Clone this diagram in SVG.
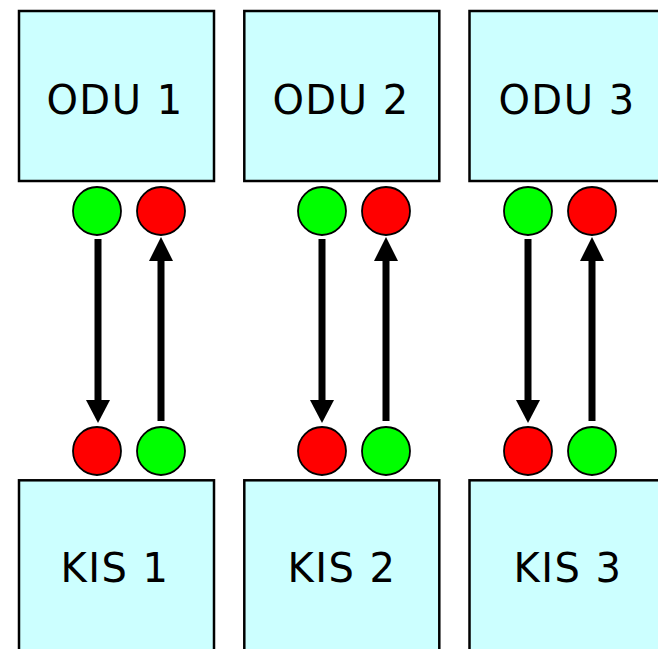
<svg xmlns="http://www.w3.org/2000/svg" width="658" height="649" viewBox="0 0 658 649">
<style>
.box{fill:#CCFFFF;stroke:#000;stroke-width:2.5}
.lbl{font-family:"DejaVu Sans",Verdana,sans-serif;font-size:40px;letter-spacing:1.5px;fill:#000;text-anchor:middle}
.g{fill:#00FF00;stroke:#000;stroke-width:1.8}
.r{fill:#FF0000;stroke:#000;stroke-width:1.8}
.shaft{stroke:#000;stroke-width:7;fill:none}
.head{fill:#000}
</style>
<rect width="658" height="649" fill="#fff"/>
<g id="odu1"><rect class="box" x="19" y="11" width="195" height="170"/><text class="lbl" x="115" y="114">ODU 1</text><circle class="g" cx="97" cy="211" r="24"/><circle class="r" cx="161" cy="211" r="24"/></g>
<g id="odu2"><rect class="box" x="244.3" y="11" width="195" height="170"/><text class="lbl" x="341" y="114">ODU 2</text><circle class="g" cx="322" cy="211" r="24"/><circle class="r" cx="386" cy="211" r="24"/></g>
<g id="odu3"><rect class="box" x="469.5" y="11" width="195" height="170"/><text class="lbl" x="567" y="114">ODU 3</text><circle class="g" cx="528" cy="211" r="24"/><circle class="r" cx="592" cy="211" r="24"/></g>
<g id="kis1"><rect class="box" x="19" y="480.3" width="195" height="190"/><text class="lbl" x="115" y="582">KIS 1</text><circle class="r" cx="97" cy="451" r="24"/><circle class="g" cx="161" cy="451" r="24"/></g>
<g id="kis2"><rect class="box" x="244.3" y="480.3" width="195" height="190"/><text class="lbl" x="342" y="582">KIS 2</text><circle class="r" cx="322" cy="451" r="24"/><circle class="g" cx="386" cy="451" r="24"/></g>
<g id="kis3"><rect class="box" x="469.5" y="480.3" width="195" height="190"/><text class="lbl" x="568" y="582">KIS 3</text><circle class="r" cx="528" cy="451" r="24"/><circle class="g" cx="592" cy="451" r="24"/></g>
<g id="connectors">
<line class="shaft" x1="98" y1="239" x2="98" y2="401"/><polygon class="head" points="86,400 110,400 98,423"/>
<line class="shaft" x1="161" y1="421" x2="161" y2="259"/><polygon class="head" points="149,261 173,261 161,237"/>
<line class="shaft" x1="322" y1="239" x2="322" y2="401"/><polygon class="head" points="310,400 334,400 322,423"/>
<line class="shaft" x1="386" y1="421" x2="386" y2="259"/><polygon class="head" points="374,261 398,261 386,237"/>
<line class="shaft" x1="528" y1="239" x2="528" y2="401"/><polygon class="head" points="516,400 540,400 528,423"/>
<line class="shaft" x1="592" y1="421" x2="592" y2="259"/><polygon class="head" points="580,261 604,261 592,237"/>
</g>
</svg>
